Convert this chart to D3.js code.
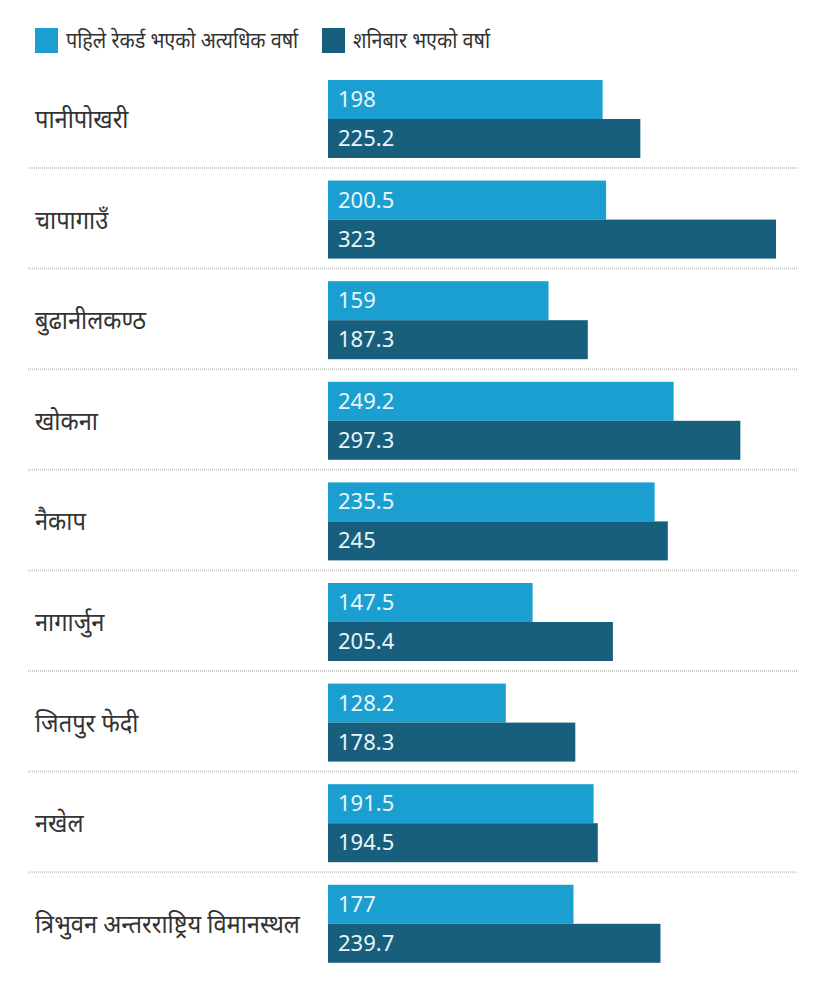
<!DOCTYPE html>
<html>
<head>
<meta charset="UTF-8">
<title>Rainfall bars</title>
<script src="https://cdn.jsdelivr.net/npm/d3@7"></script>
<style>
body { margin:0; background:white; }
text { font-family: "Noto Sans", "Roboto", sans-serif; }
</style>
</head>
<body>
<script type="text/javascript">
var stations = ["पानीपोखरी","चापागाउँ","बुढानीलकण्ठ","खोकना","नैकाप","नागार्जुन","जितपुर फेदी","नखेल","त्रिभुवन अन्तरराष्ट्रिय विमानस्थल"]
var previousRecord = [198,200.5,159,249.2,235.5,147.5,128.2,191.5,177]
var saturdayRain = [225.2,323,187.3,297.3,245,205.4,178.3,194.5,239.7]
var seriesNames = ["पहिले रेकर्ड भएको अत्यधिक वर्षा","शनिबार भएको वर्षा"]
var colors = ["#1b9fd1","#175f7d"]

var svg = d3.select("body").append("svg")
  .attr("width",818)
  .attr("height",1000)
  .style("background","white")

var x = d3.scaleLinear().domain([0,323]).range([328,776])
var y = d3.scaleBand().domain(stations).range([80,80+100.6*stations.length])
var ySub = d3.scaleBand().domain([0,1]).range([0,78])

// legend (text squeezed a bit, the original face is condensed)
var legend = svg.selectAll(".legend").data(seriesNames).enter()
  .append("g").attr("class","legend")
  .attr("transform",function(d,i){ return "translate(" + [35,322][i] + ",28)" })
legend.append("rect").attr("width",23).attr("height",25).attr("fill",function(d,i){return colors[i]})
legend.append("text")
  .attr("transform","translate(31,20) scale(0.9,1)")
  .attr("font-size",22).attr("fill","#333").text(function(d){return d})

// dotted separators
svg.selectAll(".sep").data(stations.slice(0,-1)).enter()
  .append("line")
  .attr("x1",28).attr("x2",797)
  .attr("y1",function(d){return y(d)+88}).attr("y2",function(d){return y(d)+88})
  .attr("stroke","#ccc").attr("stroke-width",2).attr("stroke-dasharray","1,1")

var rows = svg.selectAll(".row").data(stations).enter()
  .append("g").attr("class","row")
  .attr("transform",function(d){return "translate(0," + y(d) + ")"})

rows.append("text")
  .attr("transform","translate(35," + (ySub.bandwidth()+9) + ") scale(0.91,1)")
  .attr("font-size",26).attr("fill","#333")
  .text(function(d){return d})

var bars = rows.selectAll(".bar")
  .data(function(d,i){return [previousRecord[i],saturdayRain[i]]})
  .enter().append("g")

bars.append("rect")
  .attr("x",x(0))
  .attr("y",function(d,j){return ySub(j)})
  .attr("width",function(d){return x(d)-x(0)})
  .attr("height",ySub.bandwidth())
  .attr("fill",function(d,j){return colors[j]})

bars.append("text")
  .attr("x",x(0)+10)
  .attr("y",function(d,j){return ySub(j)+27})
  .attr("font-family","Roboto")
  .attr("font-size",22)
  .attr("fill","#e8f6fb")
  .text(function(d){return d})
</script>
</body>
</html>
